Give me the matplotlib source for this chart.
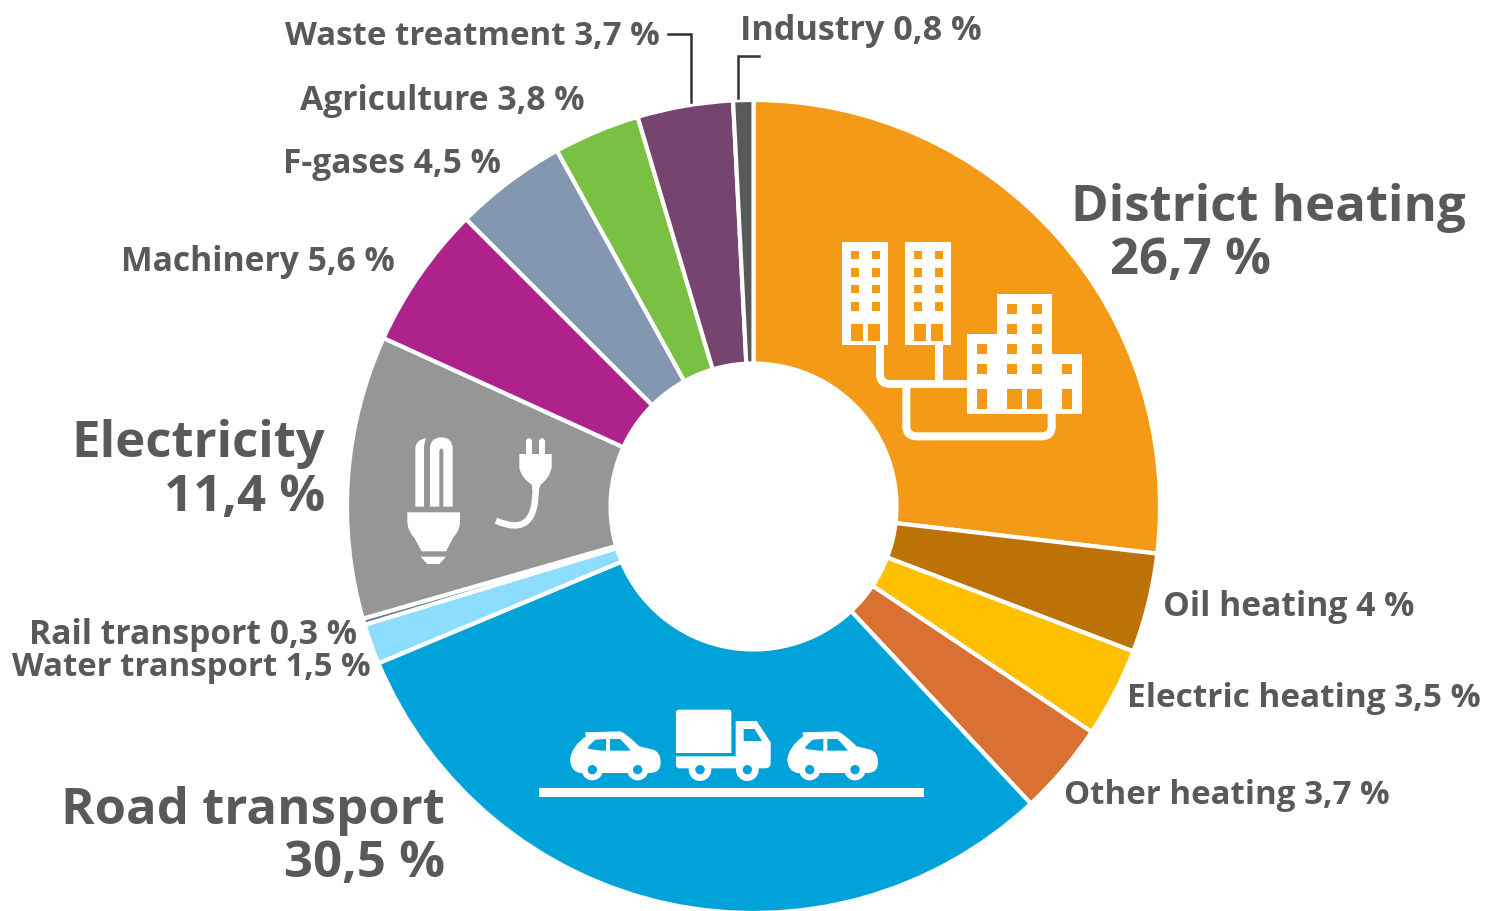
import matplotlib
matplotlib.use("Agg")
import matplotlib.pyplot as plt
from matplotlib.path import Path
from matplotlib.patches import PathPatch, Circle, Rectangle

W, H = 1486, 912

sectors = ["District heating", "Oil heating", "Electric heating", "Other heating",
           "Road transport", "Water transport", "Rail transport", "Electricity",
           "Machinery", "F-gases", "Agriculture", "Waste treatment", "Industry"]
# printed percentages
values = [26.7, 4, 3.5, 3.7, 30.5, 1.5, 0.3, 11.4, 5.6, 4.5, 3.8, 3.7, 0.8]
# arc sizes, they differ a little from the printed ones
arcs = [26.85, 3.95, 3.56, 3.69, 30.65, 1.6, 0.25, 11.25, 5.7, 4.47, 3.43, 3.8, 0.8]
colors = ["#F49A16", "#BC7206", "#FFC000", "#D97133", "#00A3D9", "#8CDDFF", "#5F7F8C",
          "#969696", "#AE228C", "#8497B0", "#7AC143", "#76456F", "#595959"]

textColor = "#595959"
bg = {"orange": "#F49A16", "blue": "#00A3D9", "grey": "#969696"}

plt.rcParams["font.family"] = ["Open Sans", "DejaVu Sans"]
fig = plt.figure(figsize=(W/100, H/100), dpi=100)
ax = fig.add_axes([0, 0, 1, 1])
ax.pie(arcs, colors=colors, startangle=90, counterclock=False,
       center=(753.5, H-507.5), radius=406.5,
       wedgeprops=dict(width=263.5, edgecolor="white", linewidth=3))
ax.set_xlim(0, W)
ax.set_ylim(0, H)
ax.set_aspect("equal")
ax.axis("off")


def fmt(name):
    v = values[sectors.index(name)]
    return f"{v:g}".replace(".", ",") + " %"


def label(name, x, y, ha="right", size=24.2):
    ax.text(x, H-y, f"{name} {fmt(name)}", ha=ha, va="baseline", fontsize=size,
            fontweight="bold", color=textColor, zorder=6)


def bigLabel(name, x, y1, y2, ha="right", x2=None):
    ax.text(x, H-y1, name, ha=ha, va="baseline", fontsize=36.6, fontweight="bold", color=textColor, zorder=6)
    ax.text(x if x2 is None else x2, H-y2, fmt(name), ha=ha, va="baseline", fontsize=36.6,
            fontweight="bold", color=textColor, zorder=6)


# small labels
label("Waste treatment", 660, 45, size=23.8)
label("Industry", 740, 40, ha="left", size=24.6)
label("Agriculture", 584, 110)
label("F-gases", 501, 173)
label("Machinery", 395, 271)
label("Rail transport", 357, 644)
label("Water transport", 371, 676, size=23.7)
label("Oil heating", 1163, 616, ha="left")
label("Electric heating", 1127, 707, ha="left", size=24)
label("Other heating", 1064, 804, ha="left", size=23.8)

bigLabel("District heating", 1071, 221, 274, ha="left", x2=1110)
bigLabel("Electricity", 325, 457, 511)
bigLabel("Road transport", 445, 824, 877)

# leader lines
ax.plot([668, 691, 691], [H-35, H-35, H-103], color="#333333", lw=1.8, zorder=6, solid_joinstyle="miter")
ax.plot([759, 738, 738], [H-57, H-57, H-99], color="#333333", lw=1.8, zorder=6, solid_joinstyle="miter")


# icon helpers, coordinates in 3x crop space from an origin
def mkPath(ox, oy, cmds):
    verts, codes = [], []
    for c in cmds:
        if c[0] == "M":
            verts.append(c[1]); codes.append(Path.MOVETO)
        elif c[0] == "L":
            verts.append(c[1]); codes.append(Path.LINETO)
        elif c[0] == "Q":
            verts += [c[1], c[2]]; codes += [Path.CURVE3, Path.CURVE3]
    verts = [(ox + x/3, H - (oy + y/3)) for x, y in verts]
    return Path(verts, codes)


def shape(ox, oy, cmds, color="white", z=3):
    ax.add_patch(PathPatch(mkPath(ox, oy, cmds), fc=color, ec="none", zorder=z))


def stroke(ox, oy, cmds, width, color="white", z=3):
    ax.add_patch(PathPatch(mkPath(ox, oy, cmds), fc="none", ec=color, lw=width*0.72, zorder=z, capstyle="butt"))


def box(ox, oy, x1, y1, x2, y2, color="white", z=3):
    ax.add_patch(Rectangle((ox + x1/3, H - (oy + y2/3)), (x2-x1)/3, (y2-y1)/3, fc=color, ec="none", zorder=z))


def disc(ox, oy, x, y, r, color="white", z=3):
    ax.add_patch(Circle((ox + x/3, H - (oy + y/3)), r/3, fc=color, ec="none", zorder=z))


# district heating icon
ox, oy = 820, 220
orange = bg["orange"]
stroke(ox, oy, [("M", (180, 378)), ("L", (180, 465)), ("Q", (180, 495), (210, 495)), ("L", (445, 495))], 8)
stroke(ox, oy, [("M", (358, 378)), ("L", (358, 495))], 8)
stroke(ox, oy, [("M", (259, 495)), ("L", (259, 622)), ("Q", (259, 652), (289, 652)), ("L", (665, 652)),
                ("Q", (695, 652), (695, 622)), ("L", (695, 580))], 8)
for bx, wx1, wx2, d1, d2, bw in [(66, 92, 156, 92, 143, 139), (255, 281, 345, 281, 332, 138)]:
    box(ox, oy, bx, 70, bx+bw, 378)
    for wy in [96, 148, 198, 250]:
        box(ox, oy, wx1, wy, wx1+25, wy+25, orange, 4)
        box(ox, oy, wx2, wy, wx2+25, wy+25, orange, 4)
    box(ox, oy, d1, 314, d1+38, 365, orange, 4)
    box(ox, oy, d2, 314, d2+38, 365, orange, 4)
box(ox, oy, 441, 345, 530, 585)
box(ox, oy, 530, 225, 696, 585)
box(ox, oy, 696, 405, 787, 585)
for wx, wy in [(561, 255), (636, 255), (561, 315), (636, 315), (471, 375), (561, 375), (636, 375),
               (471, 436), (561, 436), (636, 436), (727, 436)]:
    box(ox, oy, wx, wy, wx+30, wy+30, orange, 4)
for wx, ww in [(471, 30), (561, 45), (621, 45), (727, 30)]:
    box(ox, oy, wx, 510, wx+ww, 570, orange, 4)

# road transport icon
ox, oy = 530, 690
blue = bg["blue"]
box(ox, oy, 28, 298, 1183, 324)


def car(dx):
    o = ox + dx/3
    shape(o, oy, [("M", (120, 210)), ("Q", (125, 172), (168, 142)), ("L", (165, 130)), ("L", (270, 127)),
                  ("Q", (285, 130), (328, 172)), ("L", (370, 182)), ("Q", (392, 190), (392, 220)),
                  ("Q", (392, 252), (360, 252)), ("L", (150, 252)), ("Q", (120, 245), (120, 210))])
    shape(o, oy, [("M", (172, 178)), ("Q", (185, 158), (198, 152)), ("L", (228, 150)), ("L", (228, 185)),
                  ("Q", (195, 185), (172, 178))], blue, 4)
    shape(o, oy, [("M", (240, 150)), ("L", (270, 150)), ("Q", (280, 158), (302, 185)), ("L", (240, 185))], blue, 4)
    for wx in [187, 323]:
        disc(o, oy, wx, 242, 32)
        disc(o, oy, wx, 242, 14, blue, 4)


car(0)
car(652)
shape(ox, oy, [("M", (438, 70)), ("Q", (438, 62), (446, 62)), ("L", (596, 62)), ("Q", (604, 62), (604, 70)),
               ("L", (604, 192)), ("L", (438, 192))])
shape(ox, oy, [("M", (438, 202)), ("L", (617, 202)), ("L", (617, 96)), ("L", (680, 96)), ("L", (722, 160)),
               ("L", (722, 222)), ("Q", (722, 238), (705, 238)), ("L", (445, 238)), ("L", (438, 232))])
shape(ox, oy, [("M", (641, 120)), ("L", (674, 120)), ("L", (696, 156)), ("L", (641, 156))], blue, 4)
for wx in [510, 652]:
    disc(ox, oy, wx, 242, 34)
    disc(ox, oy, wx, 242, 14, blue, 4)

# electricity icons
ox, oy = 390, 425
shape(ox, oy, [("M", (76, 248)), ("L", (76, 75)), ("Q", (76, 47), (108, 43)), ("Q", (102, 55), (102, 75)),
               ("L", (102, 248))])
shape(ox, oy, [("M", (120, 248)), ("L", (120, 75)), ("Q", (120, 40), (154, 40)), ("Q", (188, 40), (188, 75)),
               ("L", (188, 248)), ("L", (160, 248)), ("L", (160, 80)), ("Q", (154, 66), (148, 80)), ("L", (148, 248))])
shape(ox, oy, [("M", (52, 265)), ("L", (210, 265)), ("L", (210, 300)), ("Q", (205, 325), (190, 340)),
               ("L", (168, 382)), ("L", (95, 382)), ("L", (72, 340)), ("Q", (52, 320), (52, 290))])
shape(ox, oy, [("M", (92, 398)), ("L", (168, 398)), ("L", (148, 420)), ("L", (112, 420))])
for px in [408, 447]:
    shape(ox, oy, [("M", (px, 95)), ("L", (px, 50)), ("Q", (px+9, 34), (px+18, 50)), ("L", (px+18, 95))])
shape(ox, oy, [("M", (388, 90)), ("L", (485, 90)), ("L", (485, 130)), ("Q", (480, 160), (452, 182)),
               ("L", (445, 200)), ("L", (428, 200)), ("L", (425, 182)), ("Q", (392, 160), (388, 130))])
stroke(ox, oy, [("M", (437, 190)), ("Q", (440, 345), (318, 290))], 6.5)

fig.savefig("out.png", dpi=100, facecolor="white")
